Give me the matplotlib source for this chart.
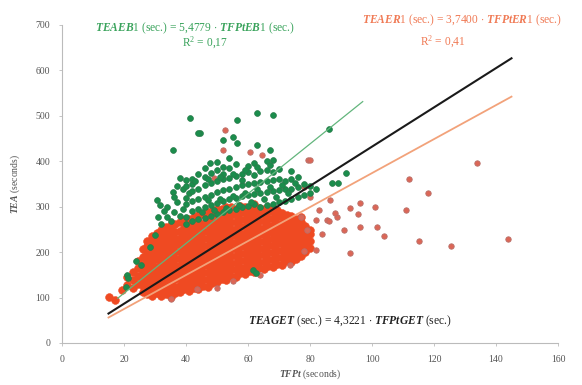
import matplotlib
matplotlib.use("Agg")
import matplotlib.pyplot as plt

# ---------------- data ----------------
# red (ER1) dense cloud: one TFPt value per column, TEA values in that column
red_col_tfp = [15, 17, 19.5, 21, 23, 24.5, 26, 27.5, 29, 30.5, 32, 33.5, 35, 36.5, 38,
               39.5, 41, 42.5, 44, 45.5, 47, 48.5, 50, 51.5, 53, 54.5, 56, 57.5, 59,
               60.5, 62, 63.5, 65, 66.5, 68, 69.5, 71, 72.5, 74, 75.5, 77, 78.5, 80]
red_col_tea = [
    [102], [94], [117], [128, 146], [121, 138, 157], [129, 147, 166, 180],
    [112, 126, 141, 157, 172, 190, 206],
    [108, 119, 134, 150, 165, 181, 197, 214, 224],
    [104, 117, 131, 145, 160, 176, 191, 207, 222, 236],
    [110, 124, 139, 153, 168, 184, 199, 214, 229, 242],
    [103, 118, 132, 147, 162, 177, 192, 207, 222, 237, 249],
    [108, 124, 139, 154, 170, 185, 200, 215, 230, 245, 255],
    [101, 116, 131, 146, 161, 176, 191, 206, 221, 236, 251, 260],
    [109, 124, 140, 155, 170, 185, 200, 215, 230, 245, 262],
    [112, 127, 142, 157, 172, 187, 202, 217, 232, 247, 266],
    [118, 133, 148, 163, 178, 193, 208, 223, 238, 253, 270],
    [114, 129, 144, 159, 174, 189, 204, 219, 234, 249, 264, 274],
    [121, 136, 151, 166, 181, 196, 211, 226, 241, 256, 278],
    [119, 134, 149, 164, 179, 194, 209, 224, 239, 254, 269, 281],
    [126, 141, 156, 171, 186, 201, 216, 231, 246, 261, 285],
    [124, 139, 154, 169, 184, 199, 214, 229, 244, 259, 274, 288],
    [131, 146, 161, 176, 191, 206, 221, 236, 251, 266, 290],
    [135, 150, 165, 180, 195, 210, 225, 240, 255, 270, 283, 294],
    [141, 156, 171, 186, 201, 216, 231, 246, 261, 276, 296],
    [139, 154, 169, 184, 199, 214, 229, 244, 259, 274, 288, 299],
    [147, 162, 177, 192, 207, 222, 237, 252, 267, 282, 300],
    [146, 161, 176, 191, 206, 221, 236, 251, 266, 281, 296],
    [153, 168, 183, 198, 213, 228, 243, 258, 273, 288, 302],
    [151, 166, 181, 196, 211, 226, 241, 256, 271, 286, 300],
    [158, 173, 188, 203, 218, 233, 248, 263, 278, 293],
    [157, 172, 187, 202, 217, 232, 247, 262, 277, 292, 305],
    [164, 179, 194, 209, 224, 239, 254, 269, 284, 298],
    [163, 178, 193, 208, 223, 238, 253, 268, 283, 296],
    [170, 185, 200, 215, 230, 245, 260, 275, 290],
    [168, 183, 198, 213, 228, 243, 258, 273, 288, 298],
    [175, 190, 205, 220, 235, 250, 265, 280, 292],
    [172, 187, 202, 217, 232, 247, 262, 277, 287],
    [180, 195, 210, 225, 240, 255, 270, 282],
    [178, 193, 208, 223, 238, 253, 268, 280],
    [186, 201, 216, 231, 246, 261, 272],
    [192, 207, 222, 237, 252, 266, 277],
    [200, 215, 230, 245, 258],
    [210, 225, 240, 249],
]
# red scattered points
red_out_tfp = [35, 43.5, 50, 55, 64, 73.5, 78, 52.5, 52, 60.5, 64.5, 79.4, 49, 80, 78,
               83, 82, 85.5, 86.5, 88.7, 91, 79, 77, 88, 86, 93, 95.5, 96, 101, 111,
               112, 118, 134, 96, 101.5, 104, 115, 125.5, 144, 93, 84, 82, 80]
red_out_tea = [96, 118, 120, 136, 150, 172, 203, 469, 425, 420, 414, 403, 363, 321, 343,
               293, 271, 271, 315, 277, 249, 249, 277, 286, 269, 297, 284, 308, 299, 293,
               361, 330, 396, 255, 255, 235, 224, 214, 229, 198, 240, 205, 403]

# green (EB1) points
green_tfp = [21, 21.4, 20.8, 25.5, 24, 28.4, 30, 61.6, 62.5,
             30.6, 31.6, 34, 34, 31, 35.8, 38, 40, 33, 36, 37, 32, 35, 38, 39, 36, 39,
             41, 42, 37,
             35.8, 41.3, 44.5, 47.7, 52, 55, 56.5, 56.5, 63, 68, 63, 67, 54, 52, 68,
             86, 87, 91.5, 89, 44,
             40, 40, 40, 40, 40, 42, 42, 42, 42, 42, 44, 44, 44, 44, 44,
             46, 46, 46, 46, 46, 46, 48, 48, 48, 48, 48, 50, 50, 50, 50, 50, 50,
             52, 52, 52, 52, 52, 54, 54, 54, 54, 54, 56, 56, 56, 56, 56,
             58, 58, 58, 58, 58, 60, 60, 60, 60, 60, 62, 62, 62, 62, 62,
             64, 64, 64, 64, 66, 66, 66, 66, 66, 68, 68, 68, 68, 70, 70, 70, 70,
             72, 72, 72, 74, 74, 74, 74, 76, 76, 76, 78, 78, 80, 80, 82,
             45, 49, 53, 57, 61, 65, 69, 73, 47, 51, 55, 59, 63, 67, 71, 75,
             43, 47, 51, 55, 59, 63, 67]
green_tea = [150, 143, 123, 172, 180, 211, 238, 160, 153,
             315, 304, 300, 277, 277, 333, 363, 359, 290, 288, 310, 262, 268, 280, 295, 322, 340,
             330, 350, 345,
             425, 495, 462, 396, 447, 454, 440, 491, 506, 502, 436, 425, 407, 388, 403,
             470, 352, 374, 352, 462,
             262, 278, 305, 320, 345, 268, 290, 312, 335, 360, 272, 296, 318, 340, 372,
             276, 300, 322, 348, 366, 385, 280, 304, 326, 352, 375, 284, 308, 332, 356, 380, 398,
             288, 312, 336, 360, 372, 292, 316, 340, 364, 385, 296, 320, 344, 368, 395,
             300, 324, 348, 372, 358, 302, 326, 350, 376, 390, 305, 328, 352, 370, 396,
             300, 330, 354, 378, 304, 332, 356, 380, 400, 306, 334, 358, 376, 310, 336, 360, 382,
             312, 338, 356, 318, 340, 362, 378, 322, 344, 365, 326, 350, 330, 345, 340,
             288, 292, 298, 304, 310, 316, 322, 330, 314, 318, 324, 330, 338, 344, 348, 352,
             356, 362, 366, 372, 380, 388, 392]

# regression slopes (TEA = slope * TFPt) and drawn TFPt ranges
slope_get, range_get = 4.3221, (15, 145)
slope_er1, range_er1 = 3.7400, (15, 145)
slope_eb1, range_eb1 = 5.4779, (18, 97)

x_ticks = [0, 20, 40, 60, 80, 100, 120, 140, 160]
y_ticks = [0, 100, 200, 300, 400, 500, 600, 700]

# ---------------- drawing ----------------
plt.rcParams['font.family'] = ['Liberation Serif', 'DejaVu Serif']
plt.rcParams['mathtext.fontset'] = 'custom'
plt.rcParams['mathtext.it'] = 'Liberation Serif:italic:bold'
plt.rcParams['mathtext.rm'] = 'Liberation Serif'

fig = plt.figure(figsize=(5.82, 3.85), dpi=100)
ax = fig.add_axes([62 / 582, 42 / 385, 496 / 582, 318 / 385])

RED = '#ef4a22'
GREEN = '#1b8d4c'

rx, ry = [], []
for x, col in zip(red_col_tfp, red_col_tea):
    for y in col:
        rx.append(x)
        ry.append(y)
ax.plot(rx, ry, 'o', ms=5.6, mfc=RED, mec=RED, mew=0.4, zorder=2)
ax.plot(red_out_tfp, red_out_tea, 'o', ms=3.9, mfc='#dc6656', mec='#b8706a', mew=0.6, zorder=2)
ax.plot(green_tfp, green_tea, 'o', ms=4.2, mfc=GREEN, mec='#2a7a4a', mew=0.5, zorder=3)

for slope, (x0, x1), color, lw in [(slope_eb1, range_eb1, '#62b57c', 0.9),
                                   (slope_er1, range_er1, '#f2a27a', 1.3),
                                   (slope_get, range_get, '#1a1a1a', 1.5)]:
    ax.plot([x0, x1], [slope * x0, slope * x1], '-', color=color, lw=lw, zorder=4)

ax.set_xlim(0, 160)
ax.set_ylim(0, 700)
ax.set_xticks(x_ticks)
ax.set_yticks(y_ticks)
for s in ['top', 'right']:
    ax.spines[s].set_visible(False)
for s in ['left', 'bottom']:
    ax.spines[s].set_color('#bbbbbb')
    ax.spines[s].set_linewidth(0.8)
ax.tick_params(colors='#bbbbbb', labelcolor='#555555', labelsize=7, length=2.5, width=0.6, pad=6)

ax.set_xlabel(r'$\mathit{TFPt}$ (seconds)', fontsize=7, color='#555555', labelpad=3)
ax.set_ylabel(r'$\mathit{TEA}$ (seconds)', fontsize=7, color='#555555', labelpad=10)

ax.text(43, 693, r'$\mathit{TEAEB1}$ (sec.) = 5,4779 $\cdot$ $\mathit{TFPtEB1}$ (sec.)',
        color='#3aa35c', fontsize=8.3, ha='center', va='center', clip_on=False)
ax.text(46, 660, r'R$^2$ = 0,17', color='#3aa35c', fontsize=8.3, ha='center', va='center')
ax.text(129, 711, r'$\mathit{TEAER1}$ (sec.) = 3,7400 $\cdot$ $\mathit{TFPtER1}$ (sec.)',
        color='#f07a55', fontsize=8.3, ha='center', va='center', clip_on=False)
ax.text(123, 662, r'R$^2$ = 0,41', color='#f07a55', fontsize=8.3, ha='center', va='center')
ax.text(93, 48, r'$\mathit{TEAGET}$ (sec.) = 4,3221 $\cdot$ $\mathit{TFPtGET}$ (sec.)',
        color='#222222', fontsize=8.3, ha='center', va='center')

fig.savefig('out.png', dpi=100)
